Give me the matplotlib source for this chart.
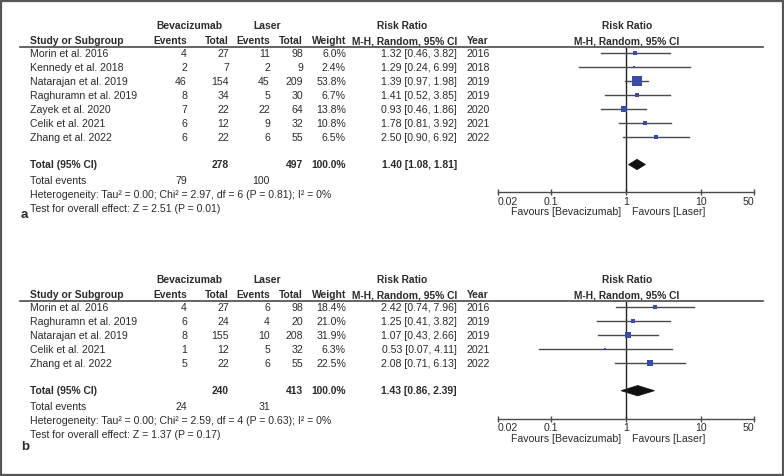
import matplotlib
matplotlib.use("Agg")
import matplotlib.pyplot as plt
from matplotlib.patches import Rectangle, Polygon

plt.rcParams['font.family'] = ['Liberation Sans', 'DejaVu Sans']

# panel a data
studies_a = ["Morin et al. 2016", "Kennedy et al. 2018", "Natarajan et al. 2019",
             "Raghuramn et al. 2019", "Zayek et al. 2020", "Celik et al. 2021", "Zhang et al. 2022"]
bev_ev_a = [4, 2, 46, 8, 7, 6, 6]
bev_tot_a = [27, 7, 154, 34, 22, 12, 22]
las_ev_a = [11, 2, 45, 5, 22, 9, 6]
las_tot_a = [98, 9, 209, 30, 64, 32, 55]
weight_a = [6.0, 2.4, 53.8, 6.7, 13.8, 10.8, 6.5]
rr_a = [1.32, 1.29, 1.39, 1.41, 0.93, 1.78, 2.50]
lo_a = [0.46, 0.24, 0.97, 0.52, 0.46, 0.81, 0.90]
hi_a = [3.82, 6.99, 1.98, 3.85, 1.86, 3.92, 6.92]
year_a = [2016, 2018, 2019, 2019, 2020, 2021, 2022]
totals_a = [278, 497, 79, 100]
pooled_a = [1.40, 1.08, 1.81]
het_a = "Heterogeneity: Tau\u00b2 = 0.00; Chi\u00b2 = 2.97, df = 6 (P = 0.81); I\u00b2 = 0%"
test_a = "Test for overall effect: Z = 2.51 (P = 0.01)"

# panel b data
studies_b = ["Morin et al. 2016", "Raghuramn et al. 2019", "Natarajan et al. 2019",
             "Celik et al. 2021", "Zhang et al. 2022"]
bev_ev_b = [4, 6, 8, 1, 5]
bev_tot_b = [27, 24, 155, 12, 22]
las_ev_b = [6, 4, 10, 5, 6]
las_tot_b = [98, 20, 208, 32, 55]
weight_b = [18.4, 21.0, 31.9, 6.3, 22.5]
rr_b = [2.42, 1.25, 1.07, 0.53, 2.08]
lo_b = [0.74, 0.41, 0.43, 0.07, 0.71]
hi_b = [7.96, 3.82, 2.66, 4.11, 6.13]
year_b = [2016, 2019, 2019, 2021, 2022]
totals_b = [240, 413, 24, 31]
pooled_b = [1.43, 0.86, 2.39]
het_b = "Heterogeneity: Tau\u00b2 = 0.00; Chi\u00b2 = 2.59, df = 4 (P = 0.63); I\u00b2 = 0%"
test_b = "Test for overall effect: Z = 1.37 (P = 0.17)"

tick_vals = [0.02, 0.1, 1, 10, 50]
tick_labels = ["0.02", "0.1", "1", "10", "50"]

W, H = 784, 476
FS = 7.6
HFS = 7.4
TXT = "#2b2b2b"
SQ = "#3b4ba8"
LN = "#4a4a4a"
STEP = 13.9

fig = plt.figure(figsize=(W / 100, H / 100), dpi=100)
bg = fig.add_axes([0, 0, 1, 1])
bg.set_xlim(0, W)
bg.set_ylim(H, 0)
bg.axis("off")
bg.add_patch(Rectangle((1, 1), W - 2, H - 2, fill=False, ec="#555555", lw=1.6))


def t(x, y, s, ha="left", bold=False, size=None):
    if size is None:
        size = HFS if bold else FS
    bg.text(x, y, s, ha=ha, va="center", fontsize=size, color=TXT,
            fontweight="bold" if bold else "normal")


def panel(top, studies, bev_ev, bev_tot, las_ev, las_tot, weight, rr, lo, hi, year,
          totals, pooled, het, test, label, label_y, sq_k):
    # headers
    t(189, top, "Bevacizumab", "center", True)
    t(267, top, "Laser", "center", True)
    t(402, top, "Risk Ratio", "center", True)
    t(627, top, "Risk Ratio", "center", True)
    h2 = top + 15
    t(30, h2, "Study or Subgroup", bold=True)
    t(187, h2, "Events", "right", True)
    t(229, h2, "Total", "right", True)
    t(270, h2, "Events", "right", True)
    t(303, h2, "Total", "right", True)
    t(346, h2, "Weight", "right", True)
    t(457, h2, "M-H, Random, 95% CI", "right", True)
    t(467, h2, "Year", bold=True)
    t(627, h2, "M-H, Random, 95% CI", "center", True)
    line_y = top + 21
    bg.plot([20, 763], [line_y, line_y], color=LN, lw=1.2)

    y0 = top + 27.3
    n = len(studies)
    for i in range(n):
        y = y0 + i * STEP + 1
        t(30, y, studies[i])
        t(187, y, str(bev_ev[i]), "right")
        t(229, y, str(bev_tot[i]), "right")
        t(270, y, str(las_ev[i]), "right")
        t(303, y, str(las_tot[i]), "right")
        t(346, y, f"{weight[i]:.1f}%", "right")
        t(457, y, f"{rr[i]:.2f} [{lo[i]:.2f}, {hi[i]:.2f}]", "right")
        t(467, y, str(year[i]))
    ty = y0 + (n + 1) * STEP + 0.5
    t(30, ty, "Total (95% CI)", bold=True)
    t(229, ty, str(totals[0]), "right", True)
    t(303, ty, str(totals[1]), "right", True)
    t(346, ty, "100.0%", "right", True)
    t(457, ty, f"{pooled[0]:.2f} [{pooled[1]:.2f}, {pooled[2]:.2f}]", "right", True)
    t(30, ty + 15.5, "Total events")
    t(187, ty + 15.5, str(totals[2]), "right")
    t(270, ty + 15.5, str(totals[3]), "right")
    t(30, ty + 29.5, het)
    t(30, ty + 44, test)
    t(21, label_y, label, bold=True, size=9.5)

    # forest axes
    axis_y = y0 + (n + 3) * STEP
    r_top = (line_y + 1 - y0) / STEP
    r_bot = (axis_y - y0) / STEP
    ax = fig.add_axes([498 / W, 1 - axis_y / H, 256 / W, (axis_y - line_y - 1) / H])
    ax.set_xscale("log")
    ax.set_xlim(0.02, 50)
    ax.set_ylim(r_bot, r_top)
    ax.patch.set_alpha(0)
    for s in ["top", "left", "right"]:
        ax.spines[s].set_visible(False)
    ax.spines["bottom"].set_color(LN)
    ax.spines["bottom"].set_linewidth(1.0)
    ax.set_yticks([])
    ax.set_xticks(tick_vals)
    ax.set_xticklabels(tick_labels)
    ax.minorticks_off()
    ax.tick_params(axis="x", direction="inout", length=5, width=1, color=LN,
                   labelsize=FS, labelcolor=TXT, pad=1)
    labs = ax.get_xticklabels()
    labs[0].set_ha("left")
    labs[-1].set_ha("right")
    ax.axvline(1, color="#222222", lw=1.0)
    for i in range(n):
        ax.plot([lo[i], hi[i]], [i, i], color=LN, lw=1.0)
        ax.plot(rr[i], i, marker="s", ms=sq_k * weight[i] ** 0.5 * 0.72,
                color=SQ, mec=SQ, mew=0)
    tr = n + 1
    hh = 5.2 / STEP
    ax.add_patch(Polygon([(pooled[1], tr), (pooled[0], tr - hh), (pooled[2], tr),
                          (pooled[0], tr + hh)], closed=True, fc="#111111", ec="#111111", lw=0.5))
    t(621, axis_y + 20, "Favours [Bevacizumab]", "right")
    t(632, axis_y + 20, "Favours [Laser]")


panel(26, studies_a, bev_ev_a, bev_tot_a, las_ev_a, las_tot_a, weight_a, rr_a, lo_a, hi_a,
      year_a, totals_a, pooled_a, het_a, test_a, "a", 215, 1.36)
panel(280, studies_b, bev_ev_b, bev_tot_b, las_ev_b, las_tot_b, weight_b, rr_b, lo_b, hi_b,
      year_b, totals_b, pooled_b, het_b, test_b, "b", 447, 1.06)

fig.savefig("out.png", dpi=100)
